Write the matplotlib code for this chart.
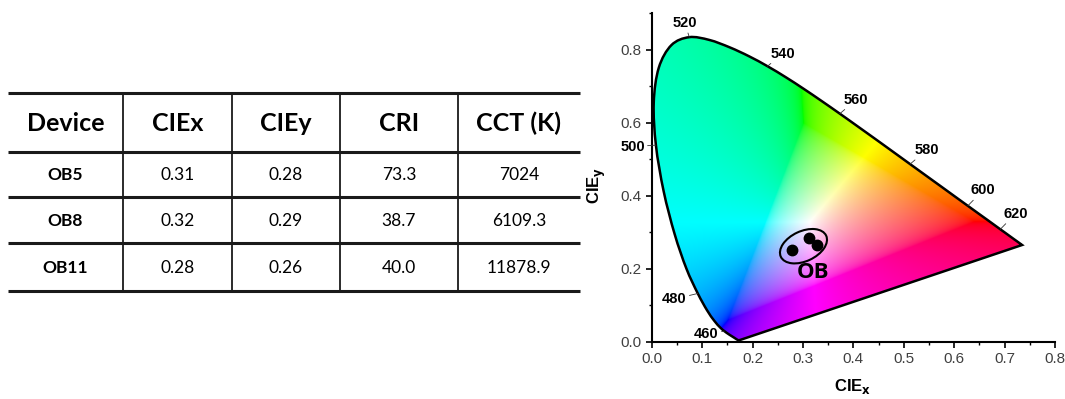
import numpy as np
import matplotlib
matplotlib.use("Agg")
import matplotlib.pyplot as plt
from matplotlib.patches import PathPatch, Ellipse
from matplotlib.path import Path
from matplotlib.ticker import MultipleLocator
from matplotlib.transforms import ScaledTranslation

# ---- table data ----
headers = ["Device", "CIEx", "CIEy", "CRI", "CCT (K)"]
devices = ["OB5", "OB8", "OB11"]
cie_x = ["0.31", "0.32", "0.28"]
cie_y = ["0.28", "0.29", "0.26"]
cri = ["73.3", "38.7", "40.0"]
cct = ["7024", "6109.3", "11878.9"]

# ---- CIE 1931 spectral locus (5 nm steps, 380-700 nm) ----
wl = np.arange(380, 705, 5)
locus_x = [0.1741, 0.1740, 0.1738, 0.1736, 0.1733, 0.1730, 0.1726, 0.1721,
           0.1714, 0.1703, 0.1689, 0.1669, 0.1644, 0.1611, 0.1566, 0.1510,
           0.1440, 0.1355, 0.1241, 0.1096, 0.0913, 0.0687, 0.0454, 0.0235,
           0.0082, 0.0039, 0.0139, 0.0389, 0.0743, 0.1142, 0.1547, 0.1929,
           0.2296, 0.2658, 0.3016, 0.3373, 0.3731, 0.4087, 0.4441, 0.4788,
           0.5125, 0.5448, 0.5752, 0.6029, 0.6270, 0.6482, 0.6658, 0.6801,
           0.6915, 0.7006, 0.7079, 0.7140, 0.7190, 0.7230, 0.7260, 0.7283,
           0.7300, 0.7311, 0.7320, 0.7327, 0.7334, 0.7340, 0.7344, 0.7346,
           0.7347]
locus_y = [0.0050, 0.0050, 0.0049, 0.0049, 0.0048, 0.0048, 0.0048, 0.0048,
           0.0051, 0.0058, 0.0069, 0.0086, 0.0109, 0.0138, 0.0177, 0.0227,
           0.0297, 0.0399, 0.0578, 0.0868, 0.1327, 0.2007, 0.2950, 0.4127,
           0.5384, 0.6548, 0.7502, 0.8120, 0.8338, 0.8262, 0.8059, 0.7816,
           0.7543, 0.7243, 0.6923, 0.6589, 0.6245, 0.5896, 0.5547, 0.5202,
           0.4866, 0.4544, 0.4242, 0.3965, 0.3725, 0.3514, 0.3340, 0.3197,
           0.3083, 0.2993, 0.2920, 0.2859, 0.2809, 0.2770, 0.2740, 0.2717,
           0.2700, 0.2689, 0.2680, 0.2673, 0.2666, 0.2660, 0.2656, 0.2654,
           0.2653]

# wavelength labels
wl_labels = [460, 480, 500, 520, 540, 560, 580, 600, 620]
# label offsets in points + alignment (layout only)
wl_offsets = {460: (-4, -2, "right", "center"),
              480: (-8, -4, "right", "center"),
              500: (-8, -1, "right", "center"),
              520: (-3, 5, "center", "bottom"),
              540: (2, 4, "left", "bottom"),
              560: (3, 5, "left", "bottom"),
              580: (3, 5, "left", "bottom"),
              600: (2, 6, "left", "bottom"),
              620: (2, 6, "left", "bottom")}

# device points
pt_x = [0.279, 0.311, 0.327]
pt_y = [0.252, 0.284, 0.266]


def xy_to_rgb(x, y):
    y = np.maximum(y, 1e-6)
    X = x / y
    Y = np.ones_like(x)
    Z = (1 - x - y) / y
    r = 3.2406 * X - 1.5372 * Y - 0.4986 * Z
    g = -0.9689 * X + 1.8758 * Y + 0.0415 * Z
    b = 0.0557 * X - 0.2040 * Y + 1.0570 * Z
    rgb = np.stack([r, g, b], axis=-1)
    # desaturate out-of-gamut colours by adding white
    mn = np.minimum(rgb.min(axis=-1, keepdims=True), 0)
    rgb = rgb - mn
    rgb = rgb / np.maximum(rgb.max(axis=-1, keepdims=True), 1e-9)
    rgb = np.where(rgb <= 0.0031308, 12.92 * rgb,
                   1.055 * np.power(rgb, 1 / 2.4) - 0.055)
    return np.clip(rgb, 0, 1)


def smooth_locus_path(xs, ys):
    """Closed path: smooth curve through the locus, straight purple line."""
    p = np.column_stack([xs, ys])
    n = len(p)
    verts = [p[0]]
    codes = [Path.MOVETO]
    for i in range(n - 1):
        p0 = p[max(i - 1, 0)]
        p1 = p[i]
        p2 = p[i + 1]
        p3 = p[min(i + 2, n - 1)]
        c1 = p1 + (p2 - p0) / 6.0
        c2 = p2 - (p3 - p1) / 6.0
        verts += [c1, c2, p2]
        codes += [Path.CURVE4] * 3
    verts += [p[0], p[0]]
    codes += [Path.LINETO, Path.CLOSEPOLY]
    return Path(np.array(verts), codes)


def main():
    fig = plt.figure(figsize=(10.65, 3.99), dpi=100)

    # ------------------ table ------------------
    tax = fig.add_axes([0, 0, 1, 1])
    tax.set_xlim(0, 1065)
    tax.set_ylim(399, 0)
    tax.axis("off")

    col_edges = [8, 123, 232, 340, 458, 580]
    row_edges = [93, 152, 197, 243, 291]
    for yy in row_edges:
        tax.plot([col_edges[0], col_edges[-1]], [yy, yy], color="#1a1a1a",
                 lw=2.2, solid_capstyle="butt")
    for xx in col_edges[1:-1]:
        tax.plot([xx, xx], [row_edges[0], row_edges[-1]], color="#1a1a1a",
                 lw=1.3)

    centers_x = [(col_edges[i] + col_edges[i + 1]) / 2 for i in range(5)]
    centers_y = [(row_edges[i] + row_edges[i + 1]) / 2 for i in range(4)]
    tfont = ["Lato", "DejaVu Sans"]
    for i, h in enumerate(headers):
        tax.text(centers_x[i], centers_y[0] + 1, h, ha="center", va="center",
                 fontsize=18, fontweight="bold", family=tfont)
    rows = list(zip(devices, cie_x, cie_y, cri, cct))
    for r, row in enumerate(rows):
        for c, val in enumerate(row):
            tax.text(centers_x[c], centers_y[r + 1] + 1, val, ha="center",
                     va="center", fontsize=12.5,
                     fontweight="bold" if c == 0 else "normal", family=tfont)

    # ------------------ CIE diagram ------------------
    ax = fig.add_axes([0.612, 0.1429, 0.3786, 0.8246])
    ax.set_xlim(0, 0.8)
    ax.set_ylim(0, 0.9)

    gx, gy = np.meshgrid(np.linspace(0, 0.8, 500), np.linspace(0.001, 0.9, 500))
    img = xy_to_rgb(gx, gy)
    im = ax.imshow(img, extent=(0, 0.8, 0.001, 0.9), origin="lower",
                   aspect="auto", interpolation="bilinear", zorder=1)
    outline = PathPatch(smooth_locus_path(locus_x, locus_y), facecolor="none",
                        edgecolor="black", lw=1.8, zorder=3)
    ax.add_patch(outline)
    im.set_clip_path(outline)

    for w in wl_labels:
        k = list(wl).index(w)
        dx, dy, ha, va = wl_offsets[w]
        ax.annotate(str(w), xy=(locus_x[k], locus_y[k]), xytext=(dx, dy),
                    textcoords="offset points", ha=ha, va=va, fontsize=10.5,
                    fontweight="bold", family="Liberation Sans",
                    arrowprops=dict(arrowstyle="-", lw=0.6, color="#333333",
                                    shrinkA=0, shrinkB=0),
                    zorder=5, annotation_clip=False)

    ax.plot(pt_x, pt_y, "o", color="black", ms=7.5, zorder=6)
    ell = Ellipse((0, 0), 0.5, 0.3, angle=25, facecolor="none",
                  edgecolor="black", lw=1.5, zorder=6,
                  transform=fig.dpi_scale_trans
                  + ScaledTranslation(0.301, 0.262, ax.transData))
    ax.add_patch(ell)
    ax.text(0.319, 0.189, "OB", ha="center", va="center", fontsize=16,
            fontweight="bold", family=["Open Sans", "DejaVu Sans"],
            color="black", zorder=6)

    for s in ["top", "right"]:
        ax.spines[s].set_visible(False)
    for s in ["left", "bottom"]:
        ax.spines[s].set_linewidth(1.5)
    ax.xaxis.set_major_locator(MultipleLocator(0.1))
    ax.xaxis.set_minor_locator(MultipleLocator(0.05))
    ax.yaxis.set_major_locator(MultipleLocator(0.2))
    ax.yaxis.set_minor_locator(MultipleLocator(0.1))
    ax.tick_params(which="major", direction="out", length=4, width=1.2,
                   labelsize=11, labelcolor="#404040")
    ax.tick_params(which="minor", direction="out", length=2.5, width=1.0)
    ax.xaxis.set_major_formatter(lambda v, p: "%.1f" % v)
    ax.yaxis.set_major_formatter(lambda v, p: "%.1f" % v)
    for lab in ax.get_xticklabels() + ax.get_yticklabels():
        lab.set_family("Liberation Sans")

    fig.text(853 / 1065, 1 - 386 / 399, r"CIE$_\mathbf{x}$", ha="center",
             va="center", fontsize=12, fontweight="bold",
             family="Liberation Sans")
    fig.text(597 / 1065, 1 - 185 / 399, r"CIE$_\mathbf{y}$", ha="center",
             va="center", fontsize=12, fontweight="bold", rotation=90,
             family="Liberation Sans")

    fig.savefig("out.png", dpi=100)


if __name__ == "__main__":
    main()
